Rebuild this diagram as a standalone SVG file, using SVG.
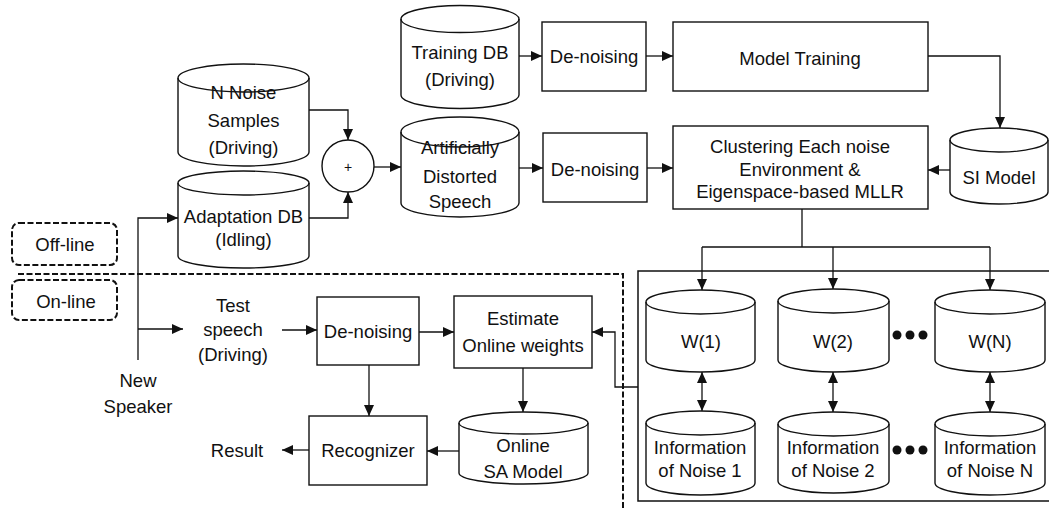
<svg xmlns="http://www.w3.org/2000/svg" width="1049" height="510" viewBox="0 0 1049 510">
<style>
text{font-family:"Liberation Sans",Arial,sans-serif;font-size:18.5px;fill:#111;text-anchor:middle}
.b{fill:#fff;stroke:#111;stroke-width:1.4}
.c{fill:none;stroke:#111;stroke-width:1.3}
.a{marker-end:url(#ah)}
.d{marker-start:url(#ah);marker-end:url(#ah)}
.dash{fill:none;stroke:#111;stroke-width:2;stroke-dasharray:6 2.5}
</style>
<defs>
<marker id="ah" markerUnits="userSpaceOnUse" markerWidth="12" markerHeight="10" refX="11" refY="5" orient="auto-start-reverse">
<path d="M0,0 L11,5 L0,10 z" fill="#111"/>
</marker>
</defs>
<rect width="1049" height="510" fill="#fff"/>

<g id="phase-boxes">
<rect x="12" y="223" width="105" height="42" rx="7" class="dash"/>
<text x="65" y="251">Off-line</text>
<rect x="12" y="280" width="105" height="40" rx="7" class="dash"/>
<text x="66" y="308">On-line</text>
<path d="M18,274 H623 V510" class="dash"/>
</g>

<g id="noise-samples">
<path class="b" d="M178,78 A65.5,14 0 0 1 309,78 L309,152 A65.5,14 0 0 1 178,152 Z"/>
<path class="c" d="M178,78 A65.5,14 0 0 0 309,78"/>
<text x="243.5" y="99">N Noise</text>
<text x="243.5" y="127">Samples</text>
<text x="243.5" y="154">(Driving)</text>
</g>

<g id="adaptation-db">
<path class="b" d="M178,183 A65.5,12 0 0 1 309,183 L309,256 A65.5,12 0 0 1 178,256 Z"/>
<path class="c" d="M178,183 A65.5,12 0 0 0 309,183"/>
<text x="243.5" y="223">Adaptation DB</text>
<text x="243.5" y="246">(Idling)</text>
</g>

<g id="adder">
<circle cx="348" cy="166" r="26" class="b"/>
<text x="348" y="172" style="font-size:14px">+</text>
</g>

<g id="training-db">
<path class="b" d="M401,19 A59,13.5 0 0 1 519,19 L519,95 A59,13.5 0 0 1 401,95 Z"/>
<path class="c" d="M401,19 A59,13.5 0 0 0 519,19"/>
<text x="460" y="59">Training DB</text>
<text x="460" y="86">(Driving)</text>
</g>

<g id="denoise-1">
<rect x="542" y="22" width="104" height="69" class="b"/>
<text x="594" y="63">De-noising</text>
</g>

<g id="model-training">
<rect x="673" y="22" width="255" height="69" class="b"/>
<text x="800" y="65">Model Training</text>
</g>

<g id="distorted-speech">
<path class="b" d="M401,132 A59,15 0 0 1 519,132 L519,203 A59,14 0 0 1 401,203 Z"/>
<path class="c" d="M401,132 A59,15 0 0 0 519,132"/>
<text x="460" y="154">Artificially</text>
<text x="460" y="183">Distorted</text>
<text x="460" y="208">Speech</text>
</g>

<g id="denoise-2">
<rect x="543" y="133" width="104" height="69" class="b"/>
<text x="595" y="176">De-noising</text>
</g>

<g id="clustering">
<rect x="673" y="126" width="255" height="83" class="b"/>
<text x="800" y="153">Clustering Each noise</text>
<text x="800" y="176">Environment &amp;</text>
<text x="800" y="198">Eigenspace-based MLLR</text>
</g>

<g id="si-model">
<path class="b" d="M950,140 A49,12 0 0 1 1048,140 L1048,192 A49,12 0 0 1 950,192 Z"/>
<path class="c" d="M950,140 A49,12 0 0 0 1048,140"/>
<text x="999" y="184">SI Model</text>
</g>

<g id="noise-bank">
<path d="M1055,271 H638 V501 H1055" class="c" style="stroke-width:1.5"/>
</g>

<g id="w1">
<path class="b" d="M646,302 A54.5,12 0 0 1 755,302 L755,360 A54.5,12 0 0 1 646,360 Z"/>
<path class="c" d="M646,302 A54.5,12 0 0 0 755,302"/>
<text x="701" y="348">W(1)</text>
</g>
<g id="w2">
<path class="b" d="M778,301 A55.5,12 0 0 1 889,301 L889,360 A55.5,12 0 0 1 778,360 Z"/>
<path class="c" d="M778,301 A55.5,12 0 0 0 889,301"/>
<text x="833" y="348">W(2)</text>
</g>
<g id="wn">
<path class="b" d="M935,302 A55,12 0 0 1 1045,302 L1045,360 A55,12 0 0 1 935,360 Z"/>
<path class="c" d="M935,302 A55,12 0 0 0 1045,302"/>
<text x="990" y="348">W(N)</text>
</g>
<g id="w-dots">
<circle cx="897" cy="335" r="4.5" fill="#111"/>
<circle cx="910" cy="335" r="4.5" fill="#111"/>
<circle cx="923" cy="335" r="4.5" fill="#111"/>
</g>

<g id="info1">
<path class="b" d="M646,423 A54.5,12 0 0 1 755,423 L755,483 A54.5,12 0 0 1 646,483 Z"/>
<path class="c" d="M646,423 A54.5,12 0 0 0 755,423"/>
<text x="700" y="454">Information</text>
<text x="700" y="477">of Noise 1</text>
</g>
<g id="info2">
<path class="b" d="M778,424 A55.5,12 0 0 1 889,424 L889,481 A55.5,12 0 0 1 778,481 Z"/>
<path class="c" d="M778,424 A55.5,12 0 0 0 889,424"/>
<text x="833" y="454">Information</text>
<text x="833" y="477">of Noise 2</text>
</g>
<g id="infon">
<path class="b" d="M935,424 A55,12 0 0 1 1045,424 L1045,483 A55,12 0 0 1 935,483 Z"/>
<path class="c" d="M935,424 A55,12 0 0 0 1045,424"/>
<text x="990" y="454">Information</text>
<text x="990" y="477">of Noise N</text>
</g>
<g id="info-dots">
<circle cx="897" cy="450" r="4.5" fill="#111"/>
<circle cx="910" cy="450" r="4.5" fill="#111"/>
<circle cx="923" cy="450" r="4.5" fill="#111"/>
</g>

<g id="new-speaker">
<text x="138" y="387">New</text>
<text x="138" y="413">Speaker</text>
</g>

<g id="test-speech">
<text x="233" y="312">Test</text>
<text x="233" y="336">speech</text>
<text x="233" y="361">(Driving)</text>
</g>

<g id="denoise-3">
<rect x="317" y="297" width="102" height="68" class="b"/>
<text x="368" y="338">De-noising</text>
</g>

<g id="estimate">
<rect x="454" y="296" width="138" height="72" class="b"/>
<text x="523" y="325">Estimate</text>
<text x="523" y="352">Online weights</text>
</g>

<g id="recognizer">
<rect x="309" y="416" width="118" height="69" class="b"/>
<text x="368" y="457">Recognizer</text>
</g>

<g id="sa-model">
<path class="b" d="M459,423 A64.5,11 0 0 1 588,423 L588,473 A64.5,11 0 0 1 459,473 Z"/>
<path class="c" d="M459,423 A64.5,11 0 0 0 588,423"/>
<text x="523" y="452">Online</text>
<text x="523" y="478">SA Model</text>
</g>

<g id="result">
<text x="237" y="457">Result</text>
</g>

<g id="connectors">
<path class="c a" d="M309,110 H348 V140"/>
<path class="c a" d="M309,218 H348 V192"/>
<path class="c a" d="M374,167 H401"/>
<path class="c a" d="M519,56 H542"/>
<path class="c a" d="M646,56 H673"/>
<path class="c a" d="M928,56 H1000 V128"/>
<path class="c a" d="M950,170 H928"/>
<path class="c a" d="M519,168 H543"/>
<path class="c a" d="M647,168 H673"/>
<path class="c" d="M802,209 V247 M702,247 H990"/>
<path class="c a" d="M702,247 V290"/>
<path class="c a" d="M833,247 V289"/>
<path class="c a" d="M990,247 V290"/>
<path class="c d" d="M702,372 V411"/>
<path class="c d" d="M833,372 V412"/>
<path class="c d" d="M990,372 V412"/>
<path class="c a" d="M138,360 V218 H178"/>
<path class="c a" d="M138,329 H183"/>
<path class="c a" d="M282,330 H317"/>
<path class="c a" d="M419,332 H454"/>
<path class="c a" d="M369,365 V416"/>
<path class="c a" d="M523,368 V412"/>
<path class="c a" d="M459,451 H427"/>
<path class="c a" d="M309,450 H282"/>
<path class="c a" d="M638,387 H615 V332 H592"/>
</g>
</svg>
